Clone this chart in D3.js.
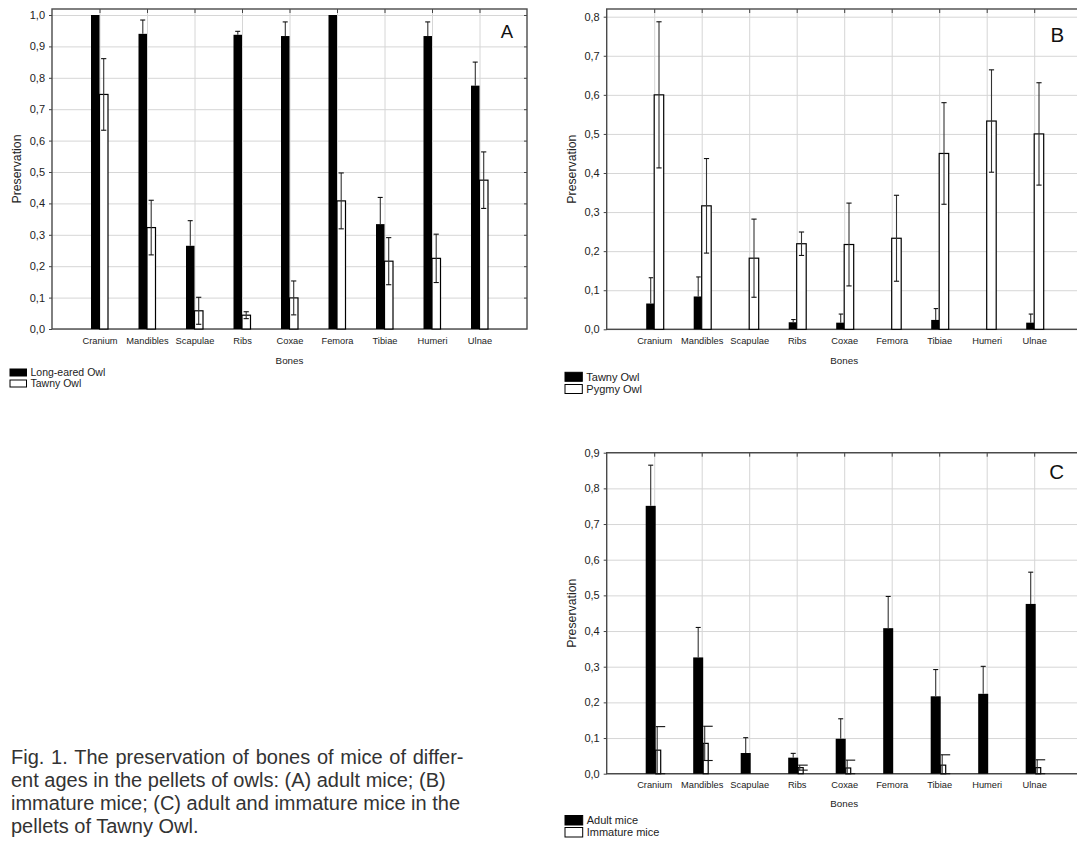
<!DOCTYPE html>
<html>
<head>
<meta charset="utf-8">
<script src="https://cdn.jsdelivr.net/npm/d3@7/dist/d3.min.js"></script>
<style>
  html, body { margin: 0; padding: 0; background: #fff; }
  svg { display: block; font-family: "Liberation Sans", Arial, sans-serif; }
</style>
</head>
<body>
<svg id="fig" width="1077" height="844"></svg>
<script>
// ---------- DATA ----------
const bones = ["Cranium", "Mandibles", "Scapulae", "Ribs", "Coxae", "Femora", "Tibiae", "Humeri", "Ulnae"];

// Panel A: adult mice
const aLongEared    = [1.0, 0.94, 0.265, 0.937, 0.933, 1.0, 0.334, 0.933, 0.775];
const aLongEaredErr = [0, 0.044, 0.08, 0.011, 0.045, 0, 0.085, 0.045, 0.075];
const aTawny        = [0.747, 0.323, 0.058, 0.044, 0.099, 0.408, 0.216, 0.225, 0.474];
const aTawnyErr     = [0.114, 0.087, 0.043, 0.011, 0.054, 0.089, 0.075, 0.077, 0.09];

// Panel B: immature mice
const bTawny        = [0.066, 0.084, 0, 0.018, 0.017, 0, 0.024, 0, 0.017];
const bTawnyErr     = [0.066, 0.05, 0, 0.007, 0.022, 0, 0.029, 0, 0.022];
const bPygmy        = [0.6, 0.316, 0.182, 0.219, 0.217, 0.233, 0.45, 0.533, 0.5];
const bPygmyErr     = [0.187, 0.121, 0.1, 0.03, 0.106, 0.11, 0.13, 0.131, 0.131];

// Panel C: Tawny Owl, adult vs immature
const cAdult        = [0.751, 0.326, 0.058, 0.045, 0.098, 0.408, 0.217, 0.224, 0.476];
const cAdultErr     = [0.114, 0.084, 0.043, 0.012, 0.056, 0.089, 0.075, 0.077, 0.089];
const cImmature     = [0.066, 0.085, 0, 0.017, 0.016, 0, 0.024, 0, 0.017];
const cImmatureErr  = [0.066, 0.048, 0, 0.007, 0.022, 0, 0.029, 0, 0.022];

const ticksA = [0, 0.1, 0.2, 0.3, 0.4, 0.5, 0.6, 0.7, 0.8, 0.9, 1.0];
const ticksB = [0, 0.1, 0.2, 0.3, 0.4, 0.5, 0.6, 0.7, 0.8];
const ticksC = [0, 0.1, 0.2, 0.3, 0.4, 0.5, 0.6, 0.7, 0.8, 0.9];

const legendA = ["Long-eared Owl", "Tawny Owl"];
const legendB = ["Tawny Owl", "Pygmy Owl"];
const legendC = ["Adult mice", "Immature mice"];

const caption = [
  "Fig. 1. The preservation of bones of mice of differ-",
  "ent ages in the pellets of owls: (A) adult mice; (B)",
  "immature mice; (C) adult and immature mice in the",
  "pellets of Tawny Owl."
];

// ---------- DRAWING ----------
const svg = d3.select("#fig");
const fmt = v => d3.format(".1f")(v).replace(".", ",");

function panel(cfg) {
  const g = svg.append("g");
  const x = d3.scalePoint().domain(bones).range([cfg.x0, cfg.x1]).padding(1);
  const y = d3.scaleLinear().domain([0, cfg.ymax]).range([cfg.y0, cfg.yTop]);
  const W = cfg.x1 - cfg.x0;

  // horizontal grid
  const gy = g.append("g").attr("transform", `translate(${cfg.x0},0)`)
    .call(d3.axisLeft(y).tickValues(cfg.ticks).tickSize(-W).tickFormat(""));
  gy.select(".domain").remove();
  gy.selectAll("line").attr("stroke", "#d6d6d6").attr("stroke-width", 1);

  // vertical grid
  const gx = g.append("g").attr("transform", `translate(0,${cfg.frameTop})`)
    .call(d3.axisBottom(x).tickSize(cfg.y0 - cfg.frameTop).tickFormat(""));
  gx.select(".domain").remove();
  gx.selectAll("line").attr("stroke", "#d6d6d6").attr("stroke-width", 1);

  // small inward ticks on top
  const tt = g.append("g").attr("transform", `translate(0,${cfg.frameTop})`)
    .call(d3.axisTop(x).tickSizeInner(-4).tickSizeOuter(0).tickFormat(""));
  tt.select(".domain").remove();
  tt.selectAll("line").attr("stroke", "#444");

  // small inward ticks on right (secondary scale)
  const yR = d3.scaleLinear().domain([0, 1.2]).range([cfg.y0, cfg.y0 - (cfg.y0 - cfg.yTop) * 1.2 / cfg.ymax]);
  const rt = g.append("g").attr("transform", `translate(${cfg.x1},0)`)
    .call(d3.axisRight(yR).tickValues(d3.range(1, 12).map(k => k / 10)).tickSizeInner(-3).tickSizeOuter(0).tickFormat(""));
  rt.select(".domain").remove();
  rt.selectAll("line").attr("stroke", "#444");

  // frame
  g.append("rect")
    .attr("x", cfg.x0).attr("y", cfg.frameTop)
    .attr("width", W).attr("height", cfg.y0 - cfg.frameTop)
    .attr("fill", "none").attr("stroke", "#4a4a4a").attr("stroke-width", 1.4);

  // y tick labels
  const yl = g.append("g").attr("transform", `translate(${cfg.x0},0)`)
    .call(d3.axisLeft(y).tickValues(cfg.ticks).tickSize(3).tickPadding(4).tickFormat(fmt));
  yl.select(".domain").remove();
  yl.selectAll("line").attr("stroke", "#444");
  yl.selectAll("text").attr("font-size", 11).attr("fill", "#222")
    .attr("font-family", "Liberation Sans, Arial, sans-serif");

  // x category labels
  const xl = g.append("g").attr("transform", `translate(0,${cfg.y0})`)
    .call(d3.axisBottom(x).tickSize(0).tickPadding(cfg.catPad));
  xl.select(".domain").remove();
  xl.selectAll("text").attr("font-size", 9.3).attr("fill", "#222")
    .attr("font-family", "Liberation Sans, Arial, sans-serif");

  // axis titles
  g.append("text").attr("x", (cfg.x0 + cfg.x1) / 2).attr("y", cfg.bonesY)
    .attr("text-anchor", "middle").attr("font-size", 9.8).attr("fill", "#222").text("Bones");
  g.append("text")
    .attr("transform", `translate(${cfg.ylabX},${(cfg.y0 + cfg.frameTop) / 2}) rotate(-90)`)
    .attr("text-anchor", "middle").attr("font-size", 12.3).attr("fill", "#222").text("Preservation");

  // panel letter
  g.append("text").attr("x", cfg.letterX).attr("y", cfg.letterY)
    .attr("text-anchor", "middle").attr("font-size", cfg.letterSize).attr("fill", "#111").text(cfg.letter);

  const L = cfg.layout;
  const s1 = bones.map((b, i) => ({ b, v: cfg.s1[i], e: cfg.e1[i] }));
  const s2 = bones.map((b, i) => ({ b, v: cfg.s2[i], e: cfg.e2[i] }));

  // black bars
  g.append("g").selectAll("rect").data(s1.filter(d => d.v > 0)).join("rect")
    .attr("x", d => x(d.b) + L.b0).attr("width", L.b1 - L.b0)
    .attr("y", d => y(d.v)).attr("height", d => y(0) - y(d.v))
    .attr("fill", "#000");

  // white bars
  g.append("g").selectAll("rect").data(s2.filter(d => d.v > 0)).join("rect")
    .attr("x", d => x(d.b) + L.w0).attr("width", L.w1 - L.w0)
    .attr("y", d => y(d.v)).attr("height", d => y(0) - y(d.v))
    .attr("fill", "#fff").attr("stroke", "#000").attr("stroke-width", 1.2);

  // black error bars (upper part only visible)
  const eb = g.append("g");
  s1.filter(d => d.v > 0 && d.e > 0).forEach(d => {
    const cx = x(d.b) + L.bw;
    eb.append("line").attr("x1", cx).attr("x2", cx).attr("y1", y(d.v)).attr("y2", y(d.v + d.e))
      .attr("stroke", "#333").attr("stroke-width", 1.1);
    eb.append("line").attr("x1", x(d.b) + L.bc0).attr("x2", x(d.b) + L.bc1)
      .attr("y1", y(d.v + d.e)).attr("y2", y(d.v + d.e))
      .attr("stroke", "#111").attr("stroke-width", 1.1);
  });
  // white error bars (both sides)
  s2.filter(d => d.v > 0 && d.e > 0).forEach(d => {
    const cx = x(d.b) + L.ww;
    const lo = Math.max(0, d.v - d.e);
    eb.append("line").attr("x1", cx).attr("x2", cx).attr("y1", y(lo)).attr("y2", y(d.v + d.e))
      .attr("stroke", "#333").attr("stroke-width", 1.1);
    [lo, d.v + d.e].forEach(t => {
      eb.append("line").attr("x1", x(d.b) + L.wc0).attr("x2", x(d.b) + L.wc1)
        .attr("y1", y(t)).attr("y2", y(t))
        .attr("stroke", "#111").attr("stroke-width", 1.1);
    });
  });

  // legend
  const lg = cfg.legend;
  cfg.legendNames.forEach((name, i) => {
    svg.append("rect").attr("x", lg.x).attr("y", lg.ys[i]).attr("width", lg.w).attr("height", lg.h)
      .attr("fill", i === 0 ? "#000" : "#fff").attr("stroke", "#000").attr("stroke-width", 1);
    svg.append("text").attr("x", lg.x + lg.w + 4).attr("y", lg.ys[i] + lg.h / 2)
      .attr("dy", "0.36em").attr("font-size", lg.fs).attr("fill", "#222").text(name);
  });
}

panel({
  x0: 52, x1: 527, y0: 329, yTop: 15, frameTop: 9, ymax: 1.0, ticks: ticksA,
  s1: aLongEared, e1: aLongEaredErr, s2: aTawny, e2: aTawnyErr,
  layout: { b0: -8.5, b1: 0, w0: 0, w1: 8.5, bw: -4.2, bc0: -6.8, bc1: -1.8, ww: 4.2, wc0: 1.6, wc1: 6.8 },
  catPad: 8, bonesY: 363.5, ylabX: 21, letter: "A", letterX: 507, letterY: 38.3, letterSize: 18.5,
  legendNames: legendA,
  legend: { x: 10, ys: [369, 380], w: 16.5, h: 7, fs: 10.5 }
});

panel({
  x0: 606.7, x1: 1081.7, y0: 329.3, yTop: 16.7, frameTop: 9, ymax: 0.8, ticks: ticksB,
  s1: bTawny, e1: bTawnyErr, s2: bPygmy, e2: bPygmyErr,
  layout: { b0: -8, b1: 0, w0: 0, w1: 9.5, bw: -3.5, bc0: -5.5, bc1: -1, ww: 4.8, wc0: 2.2, wc1: 7.4 },
  catPad: 8, bonesY: 363.5, ylabX: 575.5, letter: "B", letterX: 1057.3, letterY: 41.7, letterSize: 20.5,
  legendNames: legendB,
  legend: { x: 565, ys: [372.3, 384.5], w: 17.3, h: 9, fs: 11 }
});

panel({
  x0: 606.7, x1: 1081.7, y0: 773.7, yTop: 452.7, frameTop: 452.7, ymax: 0.9, ticks: ticksC,
  s1: cAdult, e1: cAdultErr, s2: cImmature, e2: cImmatureErr,
  layout: { b0: -8.5, b1: 1.5, w0: 1.5, w1: 6.5, bw: -3.5, bc0: -6, bc1: -1, ww: 3, wc0: 1.5, wc1: 11 },
  catPad: 8, bonesY: 807, ylabX: 575.5, letter: "C", letterX: 1056.7, letterY: 479, letterSize: 20.5,
  legendNames: legendC,
  legend: { x: 565, ys: [815.5, 827.5], w: 17.7, h: 9.5, fs: 11 }
});

// caption
const cap = svg.append("text").attr("font-size", 20).attr("fill", "#333");
caption.forEach((line, i) => {
  cap.append("tspan").attr("x", 11).attr("y", 763.5 + i * 23.3)
    .attr("word-spacing", i === 0 ? 1.2 : 0).text(line);
});
</script>
</body>
</html>
